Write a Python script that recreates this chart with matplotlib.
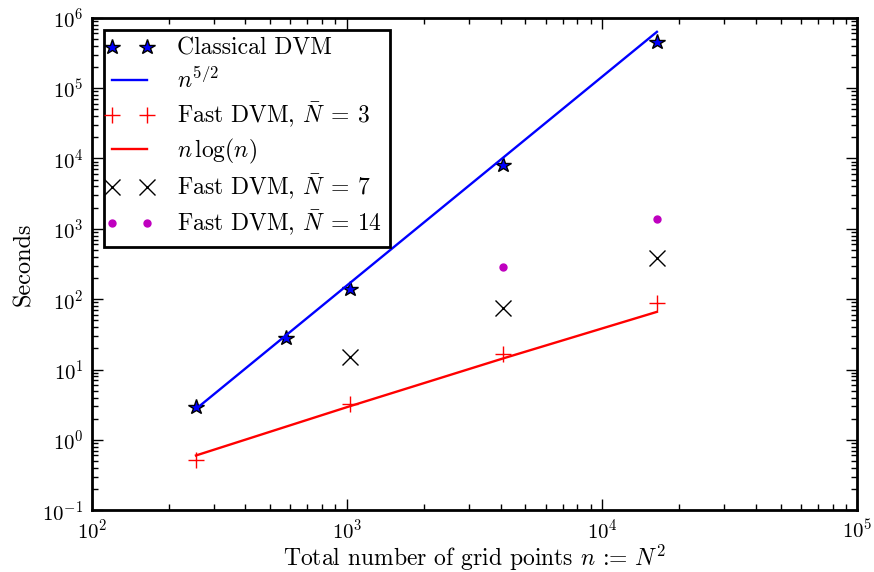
import matplotlib
matplotlib.use("Agg")
import matplotlib.pyplot as plt
from matplotlib.lines import Line2D
from matplotlib.legend_handler import HandlerLine2D

plt.rcParams['font.family'] = 'cmr10'
plt.rcParams['mathtext.fontset'] = 'cm'
plt.rcParams['axes.formatter.use_mathtext'] = True
plt.rcParams['font.size'] = 15

# grid sizes n = N^2 and measured run times
n_classical = [256, 576, 1024, 4096, 16384]
t_classical = [2.9, 28, 139, 8100, 450000]

n_fast3 = [256, 1024, 4096, 16384]
t_fast3 = [0.51, 3.2, 16.5, 87]

n_fast7 = [1024, 4096, 16384]
t_fast7 = [15, 75, 385]

n_fast14 = [4096, 16384]
t_fast14 = [285, 1380]

# reference slopes
n_guide_high = [256, 16384]
t_guide_high = [2.75, 630000]
n_guide_low = [256, 1024, 4096, 16384]
t_guide_low = [0.6, 3.0, 14.4, 66]

fig = plt.figure(figsize=(8.74, 5.72), dpi=100)
ax = fig.add_axes([0.105, 0.108, 0.876, 0.861])

ax.loglog(n_classical, t_classical, '*', color='b', markeredgecolor='k',
          markersize=11.5, label='Classical DVM')
ax.loglog(n_guide_high, t_guide_high, '-', color='b', lw=1.7, label=r'$n^{5/2}$')
ax.loglog(n_fast3, t_fast3, '+', color='r', markersize=11, mew=1.0,
          label=r'Fast DVM, $\bar{N}\:=\:3$')
ax.loglog(n_guide_low, t_guide_low, '-', color='r', lw=1.7, label=r'$n\,\log(n)$')
ax.loglog(n_fast7, t_fast7, 'x', color='k', markersize=11, mew=1.0,
          label=r'Fast DVM, $\bar{N}\:=\:7$')
ax.loglog(n_fast14, t_fast14, 'o', color='m', markeredgecolor='m', markersize=5,
          label=r'Fast DVM, $\bar{N}\:=\:14$')

ax.set_xlim(1e2, 1e5)
ax.set_ylim(1e-1, 1e6)
ax.set_xlabel(r'Total number of grid points $n$ := $N^2$', fontsize=17, labelpad=0)
ax.set_ylabel('Seconds', fontsize=17.5, labelpad=5)

for s in ax.spines.values():
    s.set_linewidth(2)
ax.tick_params(which='both', direction='in', top=True, right=True)
ax.tick_params(which='major', length=8, width=1, pad=6)
ax.tick_params(which='minor', length=4, width=1)

# old-style legend: markers sitting at both ends of the handle
leg = ax.legend(loc='upper left', numpoints=2, fancybox=False, fontsize=17,
                framealpha=1, borderaxespad=0.5, handlelength=1.5,
                handletextpad=1.25, labelspacing=0.3, borderpad=0.35,
                handler_map={Line2D: HandlerLine2D(marker_pad=0)})
leg.get_frame().set_edgecolor('k')
leg.get_frame().set_linewidth(2)

fig.savefig('out.png', dpi=100)
